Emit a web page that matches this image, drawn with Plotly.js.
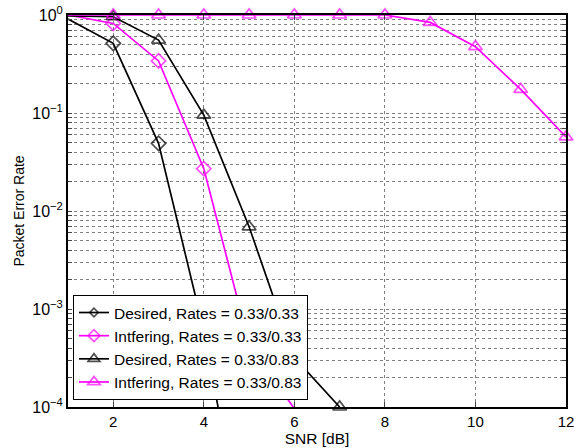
<!DOCTYPE html>
<html>
<head>
<meta charset="utf-8">
<script src="https://cdn.plot.ly/plotly-3.0.1.min.js"></script>
<style>html,body{margin:0;padding:0;background:#fff;}#chart{width:574px;height:448px;}</style>
</head>
<body>
<div id="chart"></div>
<script>
// SNR values (dB)
const snr = [1, 2, 3, 4, 5, 6, 7, 8, 9, 10, 11, 12];
const snrDesired33 = [1, 2, 3, 4, 5];
const desired33 = [0.91, 0.514, 0.049, 6.0e-4, 2.0e-6];
const snrInterf33 = [1, 2, 3, 4, 5, 6];
const interf33 = [1.0, 0.82, 0.34, 0.027, 4.4e-4, 9.6e-5];
const snrDesired83 = [1, 2, 3, 4, 5, 6, 7];
const desired83 = [0.98, 0.96, 0.555, 0.095, 0.0069, 3.2e-4, 1.0e-4];
const interf83 = [1.0, 1.0, 1.0, 1.0, 1.0, 1.0, 1.0, 1.0, 0.84, 0.475, 0.174, 0.057];
const seriesNames = [
  'Desired, Rates = 0.33/0.33',
  'Intfering, Rates = 0.33/0.33',
  'Desired, Rates = 0.33/0.83',
  'Intfering, Rates = 0.33/0.83'
];
const decades = [-4, -3, -2, -1, 0];
const decadeLabels = ['10<sup>−4</sup>', '10<sup>−3</sup>', '10<sup>−2</sup>', '10<sup>−1</sup>', '10<sup>0</sup>'];
const xTickVals = [2, 4, 6, 8, 10, 12];

// major + minor (2..9) tick positions for the log axis
const yTickVals = [];
const yTickText = [];
decades.forEach((d, i) => {
  yTickVals.push(Math.pow(10, d)); yTickText.push(decadeLabels[i]);
  if (d < 0) {
    for (let m = 2; m <= 9; m++) { yTickVals.push(m * Math.pow(10, d)); yTickText.push(''); }
  }
});

// hide markers at the left edge and below the visible range
function sizes(xs, ys, s) {
  return xs.map((x, i) => (x === 1 || ys[i] < 5e-5) ? 0 : s);
}
function trace(xs, ys, name, color, symbol, s) {
  return {
    x: xs, y: ys, name: name, type: 'scatter', mode: 'lines+markers',
    cliponaxis: false,
    line: {color: color, width: 1.7},
    marker: {symbol: symbol, size: sizes(xs, ys, s), color: color, line: {color: color, width: 1.7}}
  };
}
const data = [
  trace(snrDesired33, desired33, seriesNames[0], '#000000', 'diamond-open', 11),
  trace(snrInterf33, interf33, seriesNames[1], '#ff00ff', 'diamond-open', 11),
  trace(snrDesired83, desired83, seriesNames[2], '#000000', 'triangle-up-open', 12),
  trace(snr, interf83, seriesNames[3], '#ff00ff', 'triangle-up-open', 12)
];
const gridColor = 'rgba(0,0,0,0.5)';
const layout = {
  width: 574, height: 448,
  margin: {l: 68, r: 8, t: 15, b: 41},
  paper_bgcolor: '#fff', plot_bgcolor: '#fff',
  font: {family: 'Liberation Sans, Arial, sans-serif', size: 15, color: '#000'},
  showlegend: true,
  legend: {
    x: 0.01, y: 0.018, xanchor: 'left', yanchor: 'bottom',
    bgcolor: '#fff', bordercolor: '#000', borderwidth: 1,
    font: {size: 15.5}, tracegroupgap: 0
  },
  xaxis: {
    range: [1, 12], tickvals: xTickVals, ticks: 'inside', ticklen: 5,
    showline: true, linecolor: '#000', linewidth: 2, mirror: 'allticks',
    showgrid: true, gridcolor: gridColor, griddash: 'dot', gridwidth: 1,
    zeroline: false, ticklabeloverflow: 'allow',
    title: {text: 'SNR [dB]', font: {size: 15.5}, standoff: 2},
    tickfont: {size: 15}
  },
  yaxis: {
    type: 'log', range: [-4, 0], tickvals: yTickVals, ticktext: yTickText,
    ticks: 'inside', ticklen: 4,
    showline: true, linecolor: '#000', linewidth: 2, mirror: 'allticks',
    showgrid: true, gridcolor: gridColor, griddash: 'dot', gridwidth: 1,
    zeroline: false, ticklabeloverflow: 'allow',
    title: {text: 'Packet Error Rate', font: {size: 14}, standoff: 4},
    tickfont: {size: 16}
  }
};
Plotly.newPlot('chart', data, layout, {displayModeBar: false, staticPlot: true});
</script>
</body>
</html>
